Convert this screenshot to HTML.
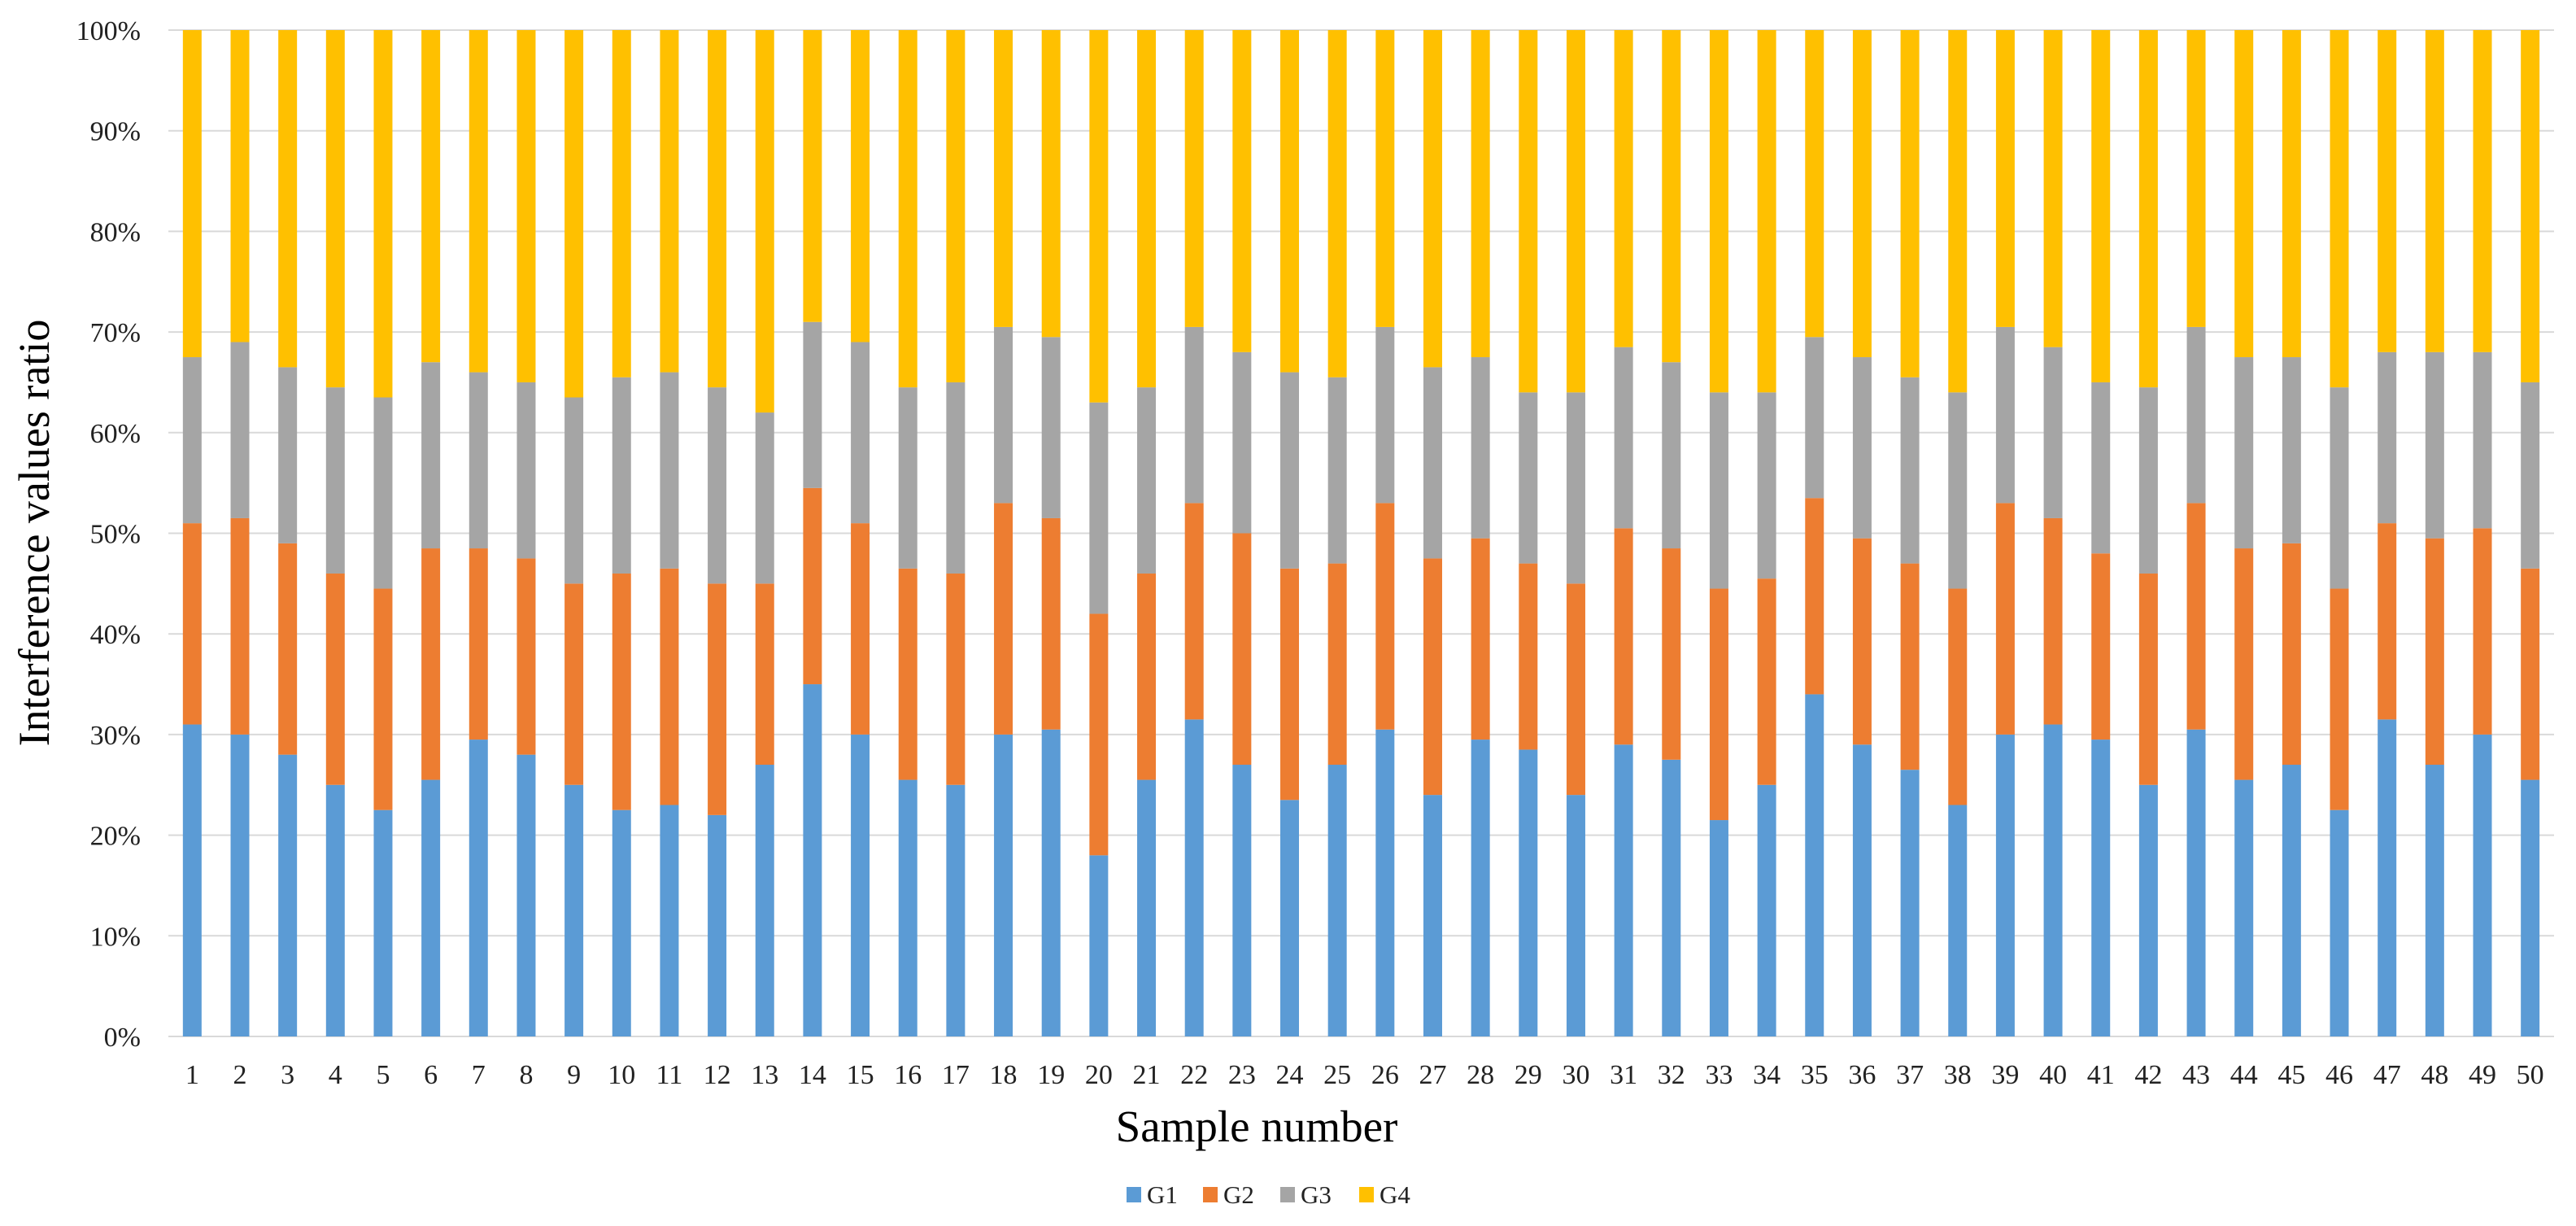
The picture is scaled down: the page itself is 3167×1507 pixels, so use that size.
<!DOCTYPE html>
<html><head><meta charset="utf-8"><style>
html,body{margin:0;padding:0;background:#fff;}
svg{display:block;font-family:"Liberation Serif",serif;}
</style></head><body>
<svg id="chart" width="3167" height="1507" viewBox="0 0 3167 1507" xmlns="http://www.w3.org/2000/svg">
<g id="grid"></g>
<g id="yticks"></g>
<g id="bars"></g>
<g id="xticks"></g>
<text x="0" y="0" transform="translate(60,655) rotate(-90)" text-anchor="middle" font-size="54" fill="#000">Interference values ratio</text>
<text x="1545" y="1403" text-anchor="middle" font-size="55" fill="#000">Sample number</text>
<g id="legend"></g>
</svg>
<script>
const categories = Array.from({length:50},(_,i)=>String(i+1));
const g1 = [31,30,28,25,22.5,25.5,29.5,28,25,22.5,23,22,27,35,30,25.5,25,30,30.5,18,25.5,31.5,27,23.5,27,30.5,24,29.5,28.5,24,29,27.5,21.5,25,34,29,26.5,23,30,31,29.5,25,30.5,25.5,27,22.5,31.5,27,30,25.5];
const g2 = [20,21.5,21,21,22,23,19,19.5,20,23.5,23.5,23,18,19.5,21,21,21,23,21,24,20.5,21.5,23,23,20,22.5,23.5,20,18.5,21,21.5,21,23,20.5,19.5,20.5,20.5,21.5,23,20.5,18.5,21,22.5,23,22,22,19.5,22.5,20.5,21];
const g3 = [16.5,17.5,17.5,18.5,19,18.5,17.5,17.5,18.5,19.5,19.5,19.5,17,16.5,18,18,19,17.5,18,21,18.5,17.5,18,19.5,18.5,17.5,19,18,17,19,18,18.5,19.5,18.5,16,18,18.5,19.5,17.5,17,17,18.5,17.5,19,18.5,20,17,18.5,17.5,18.5];
const g4 = [32.5,31,33.5,35.5,36.5,33,34,35,36.5,34.5,34,35.5,38,29,31,35.5,35,29.5,30.5,37,35.5,29.5,32,34,34.5,29.5,33.5,32.5,36,36,31.5,33,36,36,30.5,32.5,34.5,36,29.5,31.5,35,35.5,29.5,32.5,32.5,35.5,32,32,32,35];
const seriesNames = ["G1","G2","G3","G4"];
const yTickLabels = ["0%","10%","20%","30%","40%","50%","60%","70%","80%","90%","100%"];
const yTickValues = [0,10,20,30,40,50,60,70,80,90,100];

const colors = ["#5B9BD5","#ED7D31","#A5A5A5","#FFC000"];
const NS = "http://www.w3.org/2000/svg";
const X0 = 207, X1 = 3140, Y0 = 1274, Y1 = 37;
const band = (X1 - X0) / categories.length;
const barW = 23;
function xScale(i){ return X0 + band * (i + 0.5); }
function yScale(p){ return Y0 - (Y0 - Y1) * p / 100; }
function mk(tag, attrs, parent){ const e = document.createElementNS(NS, tag); for (const k in attrs) e.setAttribute(k, attrs[k]); parent.appendChild(e); return e; }

const grid = document.getElementById('grid');
const yt = document.getElementById('yticks');
yTickValues.forEach((v, i) => {
  const y = yScale(v);
  const ln = mk('line', {x1: X0, x2: X1, y1: y, y2: y, stroke: '#d9d9d9', 'stroke-width': 2}, grid);
  
  
  const t = mk('text', {x: 173, y: y + 12, 'text-anchor': 'end', 'font-size': 34, fill: '#222'}, yt);
  t.textContent = yTickLabels[i];
  
  
});

const series = [g1, g2, g3, g4];
const barsG = document.getElementById('bars');
const xt = document.getElementById('xticks');
categories.forEach((c, i) => {
  const total = g1[i] + g2[i] + g3[i] + g4[i];
  let cum = 0;
  const cx = xScale(i);
  series.forEach((s, k) => {
    const v = s[i] / total * 100;
    const yTop = yScale(cum + v), yBot = yScale(cum);
    const r = mk('rect', {x: cx - barW/2, y: yTop, width: barW, height: yBot - yTop, fill: colors[k]}, barsG);
    
    
    cum += v;
  });
  const t = mk('text', {x: cx, y: 1332, 'text-anchor': 'middle', 'font-size': 34, fill: '#222'}, xt);
  t.textContent = c;
  
  
});

const lg = document.getElementById('legend');
const legendX = [1385, 1479, 1574, 1671];
seriesNames.forEach((n, k) => {
  const sq = mk('rect', {x: legendX[k], y: 1459, width: 18, height: 19, fill: colors[k]}, lg);
  
  
  const t = mk('text', {x: legendX[k] + 25, y: 1479, 'font-size': 31, fill: '#222'}, lg);
  t.textContent = n;
  
  
});
</script>
</body></html>
